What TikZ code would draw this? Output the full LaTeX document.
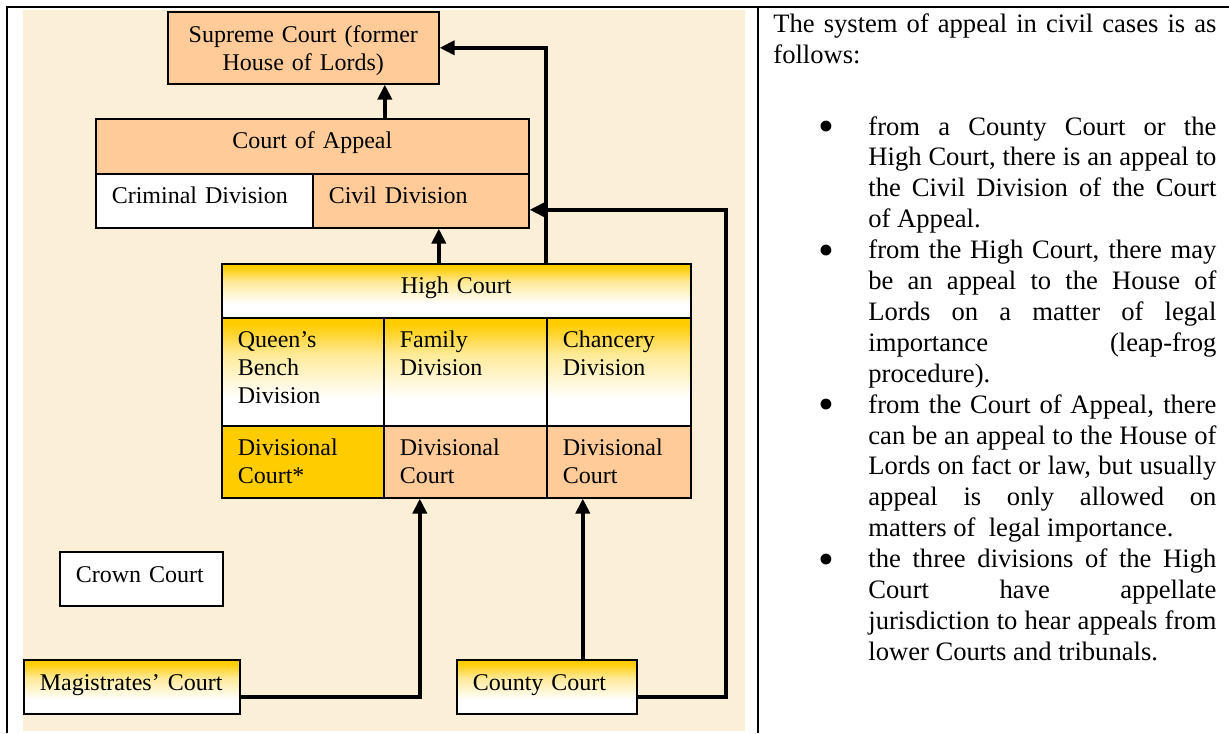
\documentclass[tikz,border=0pt]{standalone}
\usepackage{fontspec}
\setmainfont{Liberation Serif}
\usepackage{xcolor}
\usetikzlibrary{arrows.meta}
\definecolor{courtgold}{HTML}{FFCC00}
\definecolor{courtpeach}{HTML}{FFCC99}
\definecolor{parchment}{HTML}{FCEFD8}
\colorlet{palegold}{courtgold!40!white}
\pgfdeclareverticalshading{goldfade}{100bp}{color(0bp)=(white); color(25bp)=(white); color(38bp)=(white); color(58bp)=(palegold); color(72bp)=(courtgold); color(100bp)=(courtgold)}
\tikzstyle{cell} = [
    draw=black,
    line width=0.8pt,
    anchor=north west,
    inner xsep=8pt,
    inner ysep=0pt,
    align=left,
    text height=15pt,
    font=\fontsize{12}{13.8}\selectfont
    ]
\tikzstyle{peachcell} = [cell, fill=courtpeach]
\tikzstyle{whitecell} = [cell, fill=white]
\tikzstyle{fadecell} = [cell, shading=goldfade]
\tikzstyle{goldcell} = [cell, fill=courtgold]
\tikzstyle{route} = [line width=2.2pt, -{Triangle[length=7.5pt,width=7pt]}]
\tikzstyle{point} = [
    anchor=base west,
    inner sep=0pt,
    text width=174pt,
    align=justify,
    font=\fontsize{13.3}{15.45}\selectfont
    ]
\newcommand{\bul}{\llap{\raisebox{-3.2pt}{\scalebox{1.7}{\textbullet}}\hspace{17pt}}}% bullet in the margin

\begin{document}
\begin{tikzpicture}[x=0.5pt, y=-0.5pt]
\useasboundingbox (0,0) rectangle (1229,733);
\fill[parchment] (23,10) rectangle (745,731);
\draw[line width=1pt] (7,733) -- (7,7) -- (1229,7);
\draw[line width=1pt] (758,7) -- (758,733);

% upper courts
\node[peachcell, align=center, text width=119.5pt, text height=15.5pt, text depth=20.5pt] (supreme) at (167,11) {Supreme Court (former\\House of Lords)};
\node[peachcell, align=center, text width=200.5pt, text depth=12.5pt] (appeal) at (95,118) {Court of Appeal};
\node[whitecell, text width=92.5pt, text depth=12pt] (criminal) at (95,173) {Criminal Division};
\node[peachcell, text width=92pt, text depth=12pt] (civil) at (312,173) {Civil Division};

% high court
\node[fadecell, align=center, text width=218.5pt, text depth=12pt] (high) at (221,263) {High Court};
\node[fadecell, text width=65pt, text depth=39pt] (qbd) at (221,317) {Queen’s\\Bench\\Division};
\node[fadecell, text width=65.5pt, text depth=39pt] (family) at (383,317) {Family\\Division};
\node[fadecell, text width=56pt, text depth=39pt] (chancery) at (546,317) {Chancery\\Division};
\node[goldcell, text width=65pt, text depth=21pt] (qbdc) at (221,425) {Divisional\\Court*};
\node[peachcell, text width=65.5pt, text depth=21pt] (famdc) at (383,425) {Divisional\\Court};
\node[peachcell, text width=56pt, text depth=21pt] (chadc) at (546,425) {Divisional\\Court};

% lower courts
\node[whitecell, text width=65.5pt, text height=15.5pt, text depth=11.5pt] (crown) at (59,551) {Crown Court};
\node[fadecell, text width=92pt, text height=15.5pt, text depth=11.5pt] (magistrates) at (23,659) {Magistrates’ Court};
\node[fadecell, text width=74pt, text height=15.5pt, text depth=11.5pt] (county) at (456,659) {County Court};

% appeals
\coordinate (rail) at (726,450);
\coordinate (caup) at ([xshift=36.25pt]appeal.north);
\coordinate (hcup) at ([xshift=-8.75pt]high.north);
\coordinate (ccup) at ([xshift=18pt]county.north);
\draw[route] (caup) -- (caup |- supreme.south);
\draw[route] (hcup) -- (hcup |- civil.south);
\draw[route] (high.north -| chancery.west) |- (supreme.east);
\draw[route] (ccup) -- (ccup |- chadc.south);
\draw[route] ([yshift=-5pt]magistrates.east) -| ([xshift=-22.75pt]famdc.south);
\draw[route] ([yshift=-5pt]county.east) -| (rail) |- ([yshift=-4.5pt]civil.east);

% text column
\node[point, text width=221.5pt] (intro) at (773,33) {The system of appeal in civil cases is as\linebreak follows:};
\node[point] (item1) at (868,135) {\bul from a County Court or the\linebreak High Court, there is an appeal to\linebreak the Civil Division of the Court\linebreak of Appeal.};
\node[point] (item2) at (868,258.6) {\bul from the High Court, there may\linebreak be an appeal to the House of\linebreak Lords on a matter of legal\linebreak importance (leap-frog\linebreak procedure).};
\node[point] (item3) at (868,413.1) {\bul from the Court of Appeal, there\linebreak can be an appeal to the House of\linebreak Lords on fact or law, but usually\linebreak appeal is only allowed on\linebreak matters of\ \ legal importance.};
\node[point] (item4) at (868,567.6) {\bul the three divisions of the High\linebreak Court have appellate\linebreak jurisdiction to hear appeals from\linebreak lower Courts and tribunals.};
\end{tikzpicture}
\end{document}
